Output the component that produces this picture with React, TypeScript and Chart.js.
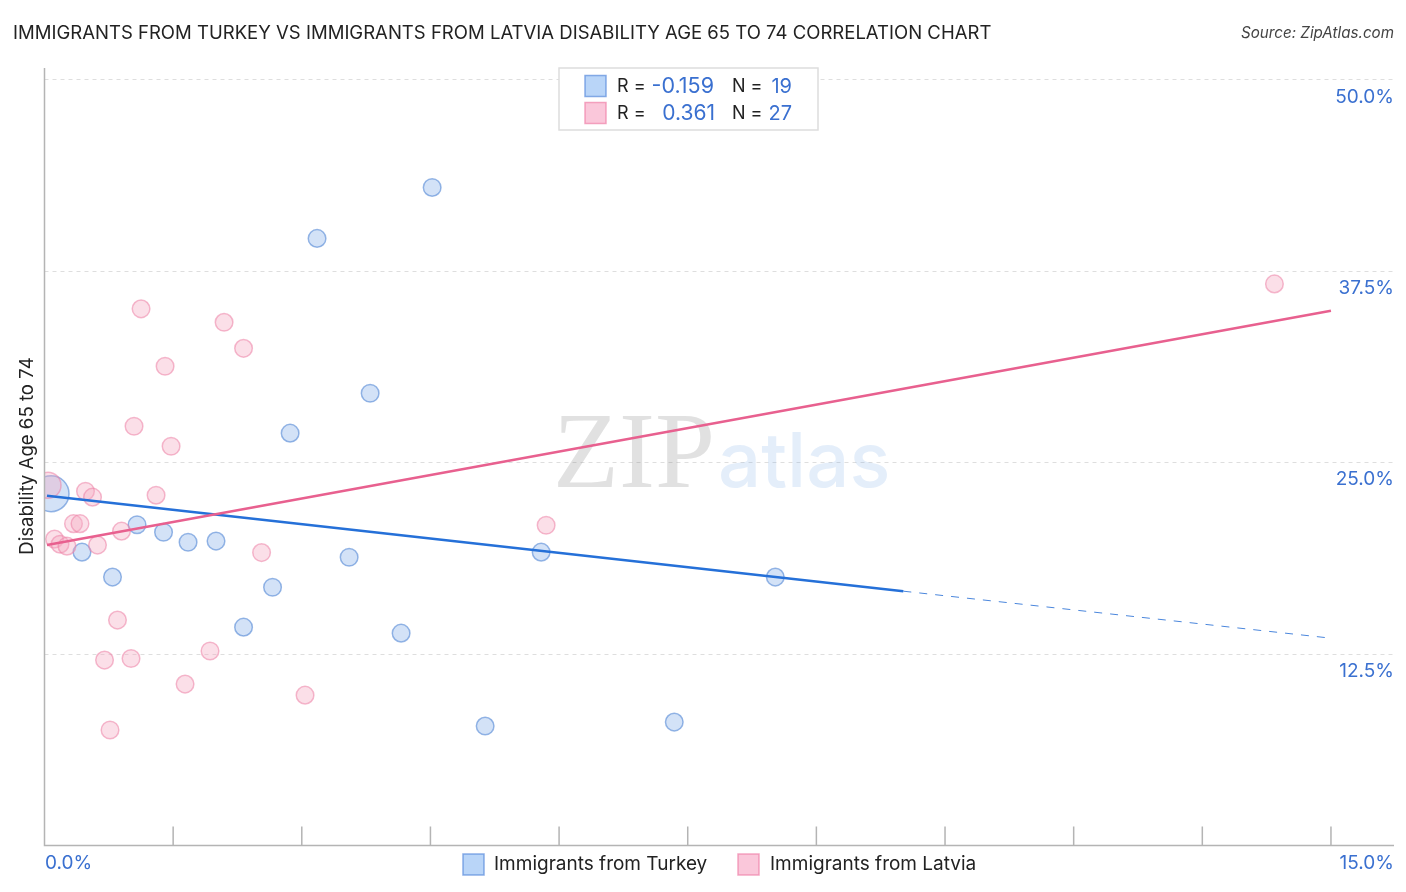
import React, { useEffect, useRef } from 'react';
import { Chart } from 'chart.js/auto';

const turkeyX = [4.52, 3.178, 3.797, 2.864, 1.079, 1.388, 1.674, 2.0, 0.437, 0.793, 3.552, 5.791, 8.521, 2.659, 2.321, 4.158, 5.138, 7.343, 0.076];
const turkeyY = [42.98, 39.65, 29.54, 26.93, 20.95, 20.46, 19.81, 19.88, 19.16, 17.53, 18.83, 19.16, 17.53, 16.87, 14.26, 13.87, 7.8, 8.06, 22.98];
const latviaX = [14.341, 1.126, 2.094, 2.321, 1.406, 1.044, 1.476, 0.478, 0.56, 1.301, 0.338, 0.414, 0.117, 0.181, 0.262, 0.618, 0.898, 2.531, 5.849, 0.851, 0.7, 1.009, 1.93, 1.639, 3.038, 0.764, 0.041];
const latviaY = [36.68, 35.05, 34.17, 32.47, 31.3, 27.38, 26.08, 23.14, 22.75, 22.88, 21.02, 21.02, 20.01, 19.68, 19.55, 19.62, 20.53, 19.13, 20.92, 14.72, 12.11, 12.21, 12.7, 10.54, 9.82, 7.54, 23.53];

const turkeyTrendX = [0.029, 10.014];
const turkeyTrendY = [22.85, 16.61];
const turkeyDashX = [10.014, 15];
const turkeyDashY = [16.61, 13.54];
const latviaTrendX = [0.029, 15];
const latviaTrendY = [19.62, 34.92];

const yTicks = [12.5, 25, 37.5, 50];
const xTicks = [1.5, 3, 4.5, 6, 7.5, 9, 10.5, 12, 13.5, 15];

const TITLE = 'IMMIGRANTS FROM TURKEY VS IMMIGRANTS FROM LATVIA DISABILITY AGE 65 TO 74 CORRELATION CHART';
const FONT = 'Inter, sans-serif';
const BLUE_TEXT = '#3a70d0';
const DARK = '#222222';

const pts = (xs: number[], ys: number[]) => xs.map((x, i) => ({ x, y: ys[i] }));

const swatch = (ctx: CanvasRenderingContext2D, x: number, y: number, size: number, fill: string, stroke: string) => {
    ctx.fillStyle = fill;
    ctx.strokeStyle = stroke;
    ctx.lineWidth = 1.5;
    ctx.fillRect(x, y, size, size);
    ctx.strokeRect(x, y, size, size);
};

const text = (ctx: CanvasRenderingContext2D, s: string, x: number, y: number, font: string, color: string, align: CanvasTextAlign = 'left') => {
    ctx.font = font;
    ctx.fillStyle = color;
    ctx.textAlign = align;
    ctx.textBaseline = 'middle';
    ctx.fillText(s, x, y);
};

const watermark = {
    id: 'watermark',
    beforeDatasetsDraw(chart: Chart) {
        const ctx = chart.ctx;
        ctx.save();
        text(ctx, 'ZIP', 553, 459, '108px "Liberation Serif"', 'rgba(120,120,120,0.22)');
        text(ctx, 'atlas', 718, 464, '500 76px Inter, sans-serif', 'rgba(120,170,230,0.2)');
        ctx.restore();
    },
};

const frame = {
    id: 'frame',
    afterDraw(chart: Chart) {
        const ctx = chart.ctx;
        const { left, right, top, bottom } = chart.chartArea;
        const xs = chart.scales.x;
        ctx.save();

        // axis lines and the short x ticks
        ctx.strokeStyle = '#b4b4b4';
        ctx.lineWidth = 1.5;
        ctx.beginPath();
        ctx.moveTo(left, top);
        ctx.lineTo(left, bottom);
        ctx.lineTo(right, bottom);
        xTicks.forEach((v) => {
            const px = xs.getPixelForValue(v);
            ctx.moveTo(px, bottom - 19);
            ctx.lineTo(px, bottom);
        });
        ctx.stroke();

        text(ctx, TITLE, 13, 33, `18.55px ${FONT}`, DARK);
        text(ctx, 'Source: ZipAtlas.com', 1394, 33, `italic 15.2px ${FONT}`, '#444444', 'right');
        text(ctx, '0.0%', 45, 863, `19px ${FONT}`, BLUE_TEXT);
        text(ctx, '15.0%', 1394, 863, `19px ${FONT}`, BLUE_TEXT, 'right');

        // y axis title
        ctx.save();
        ctx.translate(27, 456);
        ctx.rotate(-Math.PI / 2);
        text(ctx, 'Disability Age 65 to 74', 0, 0, `18.6px ${FONT}`, DARK, 'center');
        ctx.restore();

        // stats box
        ctx.fillStyle = '#ffffff';
        ctx.fillRect(559, 68, 259, 62);
        ctx.strokeStyle = '#dddddd';
        ctx.lineWidth = 1.5;
        ctx.strokeRect(559, 68, 259, 62);
        swatch(ctx, 585, 75.5, 21, 'rgba(147,190,245,0.65)', 'rgba(90,140,220,0.7)');
        swatch(ctx, 585, 102.5, 21, 'rgba(248,180,205,0.75)', 'rgba(240,130,170,0.7)');
        text(ctx, 'R =', 617, 87, `18px ${FONT}`, DARK);
        text(ctx, 'R =', 617, 114, `18px ${FONT}`, DARK);
        text(ctx, '-0.159', 714, 87, `21.5px ${FONT}`, BLUE_TEXT, 'right');
        text(ctx, '0.361', 715, 114, `21px ${FONT}`, BLUE_TEXT, 'right');
        text(ctx, 'N =', 732, 87, `18px ${FONT}`, DARK);
        text(ctx, 'N =', 732, 114, `18px ${FONT}`, DARK);
        text(ctx, '19', 792, 87, `20px ${FONT}`, BLUE_TEXT, 'right');
        text(ctx, '27', 792, 114, `20px ${FONT}`, BLUE_TEXT, 'right');

        // bottom legend
        swatch(ctx, 463, 854, 21, 'rgba(147,190,245,0.65)', 'rgba(90,140,220,0.7)');
        swatch(ctx, 738, 854, 21, 'rgba(248,180,205,0.75)', 'rgba(240,130,170,0.7)');
        text(ctx, 'Immigrants from Turkey', 494, 864, `19px ${FONT}`, DARK);
        text(ctx, 'Immigrants from Latvia', 770, 864, `19px ${FONT}`, DARK);
        ctx.restore();
    },
};

const App = () => {
    const canvasRef = useRef<HTMLCanvasElement | null>(null);

    useEffect(() => {
        if (!canvasRef.current) return;

        const chart = new Chart(canvasRef.current, {
            type: 'scatter',
            data: {
                datasets: [
                    {
                        label: 'Latvia trend',
                        data: pts(latviaTrendX, latviaTrendY),
                        showLine: true,
                        borderColor: '#e8608f',
                        borderWidth: 2.5,
                        pointRadius: 0,
                        order: 0,
                    },
                    {
                        label: 'Turkey trend',
                        data: pts(turkeyTrendX, turkeyTrendY),
                        showLine: true,
                        borderColor: '#2570d8',
                        borderWidth: 2.5,
                        pointRadius: 0,
                        order: 1,
                    },
                    {
                        label: 'Turkey trend extended',
                        data: pts(turkeyDashX, turkeyDashY),
                        showLine: true,
                        borderColor: '#4a86dc',
                        borderWidth: 1,
                        borderDash: [8, 8],
                        pointRadius: 0,
                        order: 1,
                    },
                    {
                        label: 'Immigrants from Latvia',
                        data: pts(latviaX, latviaY),
                        backgroundColor: 'rgba(245,170,195,0.38)',
                        borderColor: 'rgba(236,130,165,0.55)',
                        borderWidth: 1.5,
                        pointRadius: (c: any) => (c.dataIndex === latviaX.length - 1 ? 13 : 8.8),
                        order: 2,
                    },
                    {
                        label: 'Immigrants from Turkey',
                        data: pts(turkeyX, turkeyY),
                        backgroundColor: 'rgba(140,180,235,0.38)',
                        borderColor: 'rgba(70,125,210,0.55)',
                        borderWidth: 1.5,
                        pointRadius: (c: any) => (c.dataIndex === turkeyX.length - 1 ? 18 : 8.8),
                        order: 3,
                    },
                ],
            },
            options: {
                responsive: false,
                animation: false,
                layout: { autoPadding: false, padding: { left: 44.5, right: 12, top: 68, bottom: 46.5 } },
                plugins: { legend: { display: false }, tooltip: { enabled: false } },
                scales: {
                    x: { type: 'linear', display: false, min: 0, max: 15.735 },
                    y: {
                        type: 'linear',
                        position: 'right',
                        min: 0,
                        max: 50.78,
                        afterBuildTicks: (axis: any) => {
                            axis.ticks = yTicks.map((value) => ({ value }));
                        },
                        border: { display: false, dash: [4, 4] },
                        grid: { color: '#dedede', lineWidth: 1, drawTicks: false, tickLength: 0 },
                        ticks: {
                            mirror: true,
                            padding: 0,
                            labelOffset: 17,
                            color: BLUE_TEXT,
                            font: { family: 'Inter', size: 19 },
                            callback: (v: any) => Number(v).toFixed(1) + '%',
                        },
                    },
                },
            },
            plugins: [watermark, frame],
        } as any);

        return () => {
            chart.destroy();
        };
    }, []);

    return (
        <div style={{ position: 'absolute', left: 0, top: 0, width: 1406, height: 892, background: '#fff' }}>
            <canvas ref={canvasRef} width={1406} height={892} style={{ display: 'block' }}></canvas>
        </div>
    );
};

export default App;
